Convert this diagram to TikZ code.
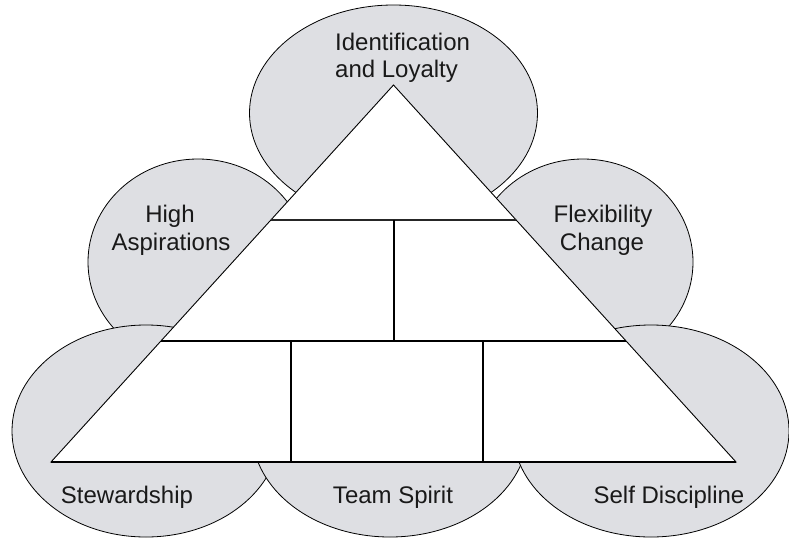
\documentclass[tikz,border=0pt]{standalone}
\usepackage{fontspec}
\setmainfont{Liberation Sans}
\usetikzlibrary{calc}
\definecolor{petal}{RGB}{222,223,227}
\definecolor{ink}{RGB}{25,25,25}
\tikzset{
  petalshape/.style={fill=petal, draw=black, line width=0.8pt},
  frame/.style={fill=white, draw=black, line width=0.9pt, line join=miter},
  divider/.style={draw=black, line width=2.2pt},
  thindivider/.style={draw=black!85, line width=1.3pt},
  label/.style={font=\fontsize{24}{27}\selectfont, text=ink, inner sep=0pt, align=center}
}
\begin{document}
\begin{tikzpicture}[x=1pt, y=-1pt]
  \useasboundingbox (0,0) rectangle (789,538);

  % side petals sit underneath the top and bottom ones
  \path[petalshape] (198,262) ellipse [x radius=110pt, y radius=103pt];
  \path[petalshape] (583,262) ellipse [x radius=110pt, y radius=103pt];
  % top petal
  \path[petalshape] (393.5,113) ellipse [x radius=144pt, y radius=108pt];
  % bottom petals, left to right
  \path[petalshape] (146,431) ellipse [x radius=134pt, y radius=106pt];
  \path[petalshape] (390,431) ellipse [x radius=138pt, y radius=106pt];
  \path[petalshape] (651,431) ellipse [x radius=138pt, y radius=106pt];

  % pyramid
  \coordinate (apex) at (393.5,85);
  \coordinate (bl) at (51,462);
  \coordinate (br) at (736,462);
  \path[frame] (apex) -- (br) -- (bl) -- cycle;

  \coordinate (l1) at ($(apex)!{135/377}!(bl)$);
  \coordinate (r1) at ($(apex)!{135/377}!(br)$);
  \coordinate (l2) at ($(apex)!{256/377}!(bl)$);
  \coordinate (r2) at ($(apex)!{256/377}!(br)$);
  \coordinate (m1) at (394,220);
  \coordinate (m2) at (394,341);
  \coordinate (a1) at (291,341);
  \coordinate (a2) at (291,462);
  \coordinate (b1) at (483,341);
  \coordinate (b2) at (483,462);

  \draw[thindivider] (l1) -- (r1);
  \draw[divider] (l2) -- (r2);
  \draw[divider] (m1) -- (m2);
  \draw[divider] (a1) -- (a2);
  \draw[divider] (b1) -- (b2);
  \draw[black, line width=1.1pt] (bl) -- (br);

  % petal labels (a two-line node sits on the baseline of its last line)
  \node[label, align=left, anchor=base west] (loyalty) at (335,77)
    {Identification\\and Loyalty};
  \node[label, anchor=base] (aspire1) at (170,222) {High};
  \node[label, anchor=base] (aspire2) at (171,250) {Aspirations};
  \node[label, anchor=base] (flex1) at (603,222) {Flexibility};
  \node[label, anchor=base] (flex2) at (602,250) {Change};
  \node[label, anchor=base] (steward) at (127,503) {Stewardship};
  \node[label, anchor=base] (team) at (393,503) {Team Spirit};
  \node[label, anchor=base] (selfdisc) at (669,503) {Self Discipline};
\end{tikzpicture}
\end{document}
